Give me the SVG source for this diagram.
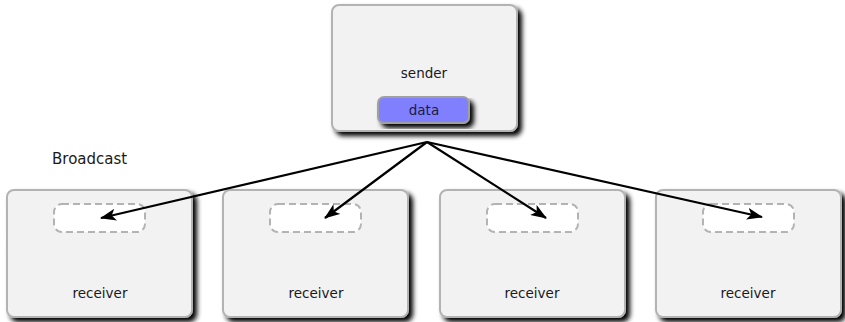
<svg xmlns="http://www.w3.org/2000/svg" width="845" height="322" viewBox="0 0 845 322">
<defs>
<filter id="sh" x="-10%" y="-10%" width="125%" height="130%">
<feGaussianBlur in="SourceAlpha" stdDeviation="2.5"/>
<feOffset dx="4" dy="4" result="b"/>
<feComponentTransfer><feFuncA type="linear" slope="1"/></feComponentTransfer>
<feMerge><feMergeNode/><feMergeNode in="SourceGraphic"/></feMerge>
</filter>
<marker id="ah" viewBox="0 0 16 12" refX="15" refY="6" markerWidth="16" markerHeight="12" markerUnits="userSpaceOnUse" orient="auto">
<path d="M0,0 L16,6 L0,12 L4,6 Z" fill="#000"/>
</marker>
<style>
.box{fill:#f2f2f2;stroke:#b3b3b3;stroke-width:2}
.slot{fill:#fff;stroke:#b3b3b3;stroke-width:2;stroke-dasharray:7,4}
.data{fill:#8080ff;stroke:#a0a0a0;stroke-width:2}
.lbl{font-family:"DejaVu Sans",sans-serif;font-size:13.5px;fill:#1a1a1a;text-anchor:middle}
.ttl{font-family:"DejaVu Sans",sans-serif;font-size:15px;fill:#1a1a1a}
.conn{stroke:#000;stroke-width:2.2;fill:none;marker-end:url(#ah)}
</style>
</defs>
<rect width="845" height="322" fill="#fff"/>
<text class="ttl" x="52" y="164">Broadcast</text>
<g id="sender">
<rect class="box" x="332" y="5" width="185" height="126" rx="7" filter="url(#sh)"/>
<text class="lbl" x="424" y="78">sender</text>
<g id="data">
<rect class="data" x="378" y="97" width="91" height="26" rx="6" filter="url(#sh)"/>
<text class="lbl" x="424" y="115" style="fill:#1a1a40">data</text>
</g>
</g>
<g id="receiver1">
<rect class="box" x="7" y="190" width="185" height="127" rx="7" filter="url(#sh)"/>
<rect class="slot" x="54" y="204" width="91" height="28" rx="8"/>
<text class="lbl" x="100" y="298">receiver</text>
</g>
<g id="receiver2">
<rect class="box" x="223" y="190" width="185" height="127" rx="7" filter="url(#sh)"/>
<rect class="slot" x="270" y="204" width="91" height="28" rx="8"/>
<text class="lbl" x="316" y="298">receiver</text>
</g>
<g id="receiver3">
<rect class="box" x="440" y="190" width="185" height="127" rx="7" filter="url(#sh)"/>
<rect class="slot" x="487" y="204" width="91" height="28" rx="8"/>
<text class="lbl" x="532" y="298">receiver</text>
</g>
<g id="receiver4">
<rect class="box" x="656" y="190" width="185" height="127" rx="7" filter="url(#sh)"/>
<rect class="slot" x="703" y="204" width="91" height="28" rx="8"/>
<text class="lbl" x="748" y="298">receiver</text>
</g>
<g id="connectors">
<line class="conn" x1="427" y1="142" x2="101" y2="218"/>
<line class="conn" x1="427" y1="142" x2="325" y2="218"/>
<line class="conn" x1="427" y1="142" x2="546" y2="218"/>
<line class="conn" x1="427" y1="142" x2="762" y2="217"/>
</g>
</svg>
